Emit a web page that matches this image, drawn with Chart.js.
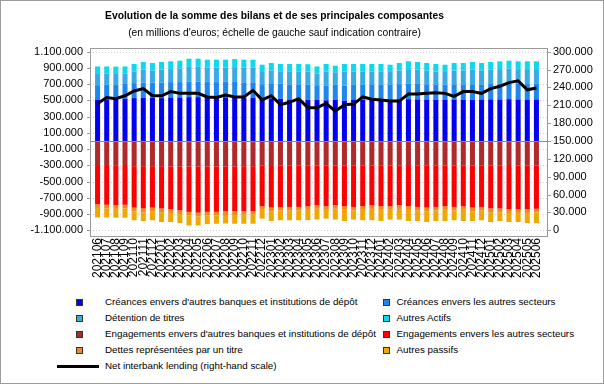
<!DOCTYPE html>
<html lang="fr">
<head>
<meta charset="utf-8">
<title>Evolution de la somme des bilans</title>
<script src="https://cdn.jsdelivr.net/npm/chart.js@4.4.1/dist/chart.umd.min.js"></script>
<style>
    html, body { margin: 0; padding: 0; background: #fff; }
    #page { position: relative; width: 604px; height: 384px; overflow: hidden; font-family: "Liberation Sans", Arial, sans-serif; color: #000; }
    #border { position: absolute; left: 0; top: 0; width: 604px; height: 384px; box-sizing: border-box; border: 1px solid #9c9c9c; pointer-events: none; }
    #chartTitle { position: absolute; left: 0; top: 8px; width: 549px; text-align: center; font-size: 10.3px; line-height: 16.6px; white-space: nowrap; }
    #balanceChart { position: absolute; left: 0; top: 0; }
    .legend-label { position: absolute; height: 16px; line-height: 16px; font-size: 9.8px; white-space: nowrap; }
    .legend-swatch { position: absolute; width: 5px; height: 5px; border: 1px solid #333; }
    .legend-line { position: absolute; height: 3px; background: #000; }
</style>
</head>
<body>
<div id="page">
    <canvas id="balanceChart" width="604" height="290"></canvas>
    <div id="chartTitle"><b>Evolution de la somme des bilans et de ses principales composantes</b><br>(en millions d'euros; échelle de gauche sauf indication contraire)</div>
    <div id="legend"></div>
    <div id="border"></div>
</div>
<script>
const months = [
    '202106', '202107', '202108', '202109', '202110', '202111', '202112',
    '202201', '202202', '202203', '202204', '202205', '202206', '202207', '202208', '202209', '202210', '202211', '202212',
    '202301', '202302', '202303', '202304', '202305', '202306', '202307', '202308', '202309', '202310', '202311', '202312',
    '202401', '202402', '202403', '202404', '202405', '202406', '202407', '202408', '202409', '202410', '202411', '202412',
    '202501', '202502', '202503', '202504', '202505', '202506'
];

const leftTicks = [1100000, 900000, 700000, 500000, 300000, 100000, -100000, -300000, -500000, -700000, -900000, -1100000];
const rightTicks = [300000, 270000, 240000, 210000, 180000, 150000, 120000, 90000, 60000, 30000, 0];

// actifs (positive)
const creancesBanques = [
    505000, 510000, 508000, 520000, 528000, 530000, 530000, 528000, 535000, 535000, 540000, 540000, 538000, 535000, 538000, 535000, 532000, 532000, 515000, 525000, 520000, 510000, 512000, 508000, 505000,
    500000, 508000, 495000, 505000, 505000, 512000, 510000, 505000, 512000, 515000, 512000, 510000, 505000, 508000, 510000, 510000, 508000, 510000, 512000, 512000, 515000, 512000, 510000, 512000
];
const creancesSecteurs = [
    182000, 182000, 181000, 182000, 185000, 188000, 186000, 188000, 190000, 190000, 192000, 192000, 190000, 190000, 190000, 192000, 190000, 190000, 184000, 186000, 185000, 185000, 185000, 184000, 182000,
    185000, 183000, 186000, 186000, 186000, 186000, 186000, 185000, 188000, 190000, 189000, 188000, 186000, 185000, 188000, 188000, 190000, 188000, 190000, 191000, 192000, 191000, 191000, 191000
];
const detentionTitres = [
    139000, 136000, 136000, 128000, 143000, 160000, 152000, 162000, 160000, 167000, 181000, 181000, 175000, 178000, 175000, 182000, 181000, 181000, 150000, 157000, 153000, 163000, 161000, 163000, 143000,
    171000, 148000, 175000, 165000, 165000, 158000, 160000, 159000, 167000, 180000, 177000, 169000, 165000, 156000, 169000, 169000, 180000, 169000, 176000, 182000, 185000, 182000, 184000, 182000
];
const autresActifs = [
    92000, 90000, 90000, 88000, 92000, 95000, 92000, 95000, 96000, 97000, 100000, 100000, 98000, 98000, 98000, 100000, 98000, 98000, 90000, 92000, 90000, 90000, 90000, 90000, 88000,
    92000, 88000, 92000, 92000, 92000, 92000, 92000, 90000, 93000, 96000, 95000, 93000, 92000, 90000, 93000, 93000, 95000, 93000, 95000, 96000, 97000, 96000, 96000, 96000
];

// passifs (negative)
const engagementsBanques = [
    -308000, -308000, -306000, -308000, -310000, -310000, -310000, -310000, -312000, -312000, -315000, -315000, -312000, -312000, -312000, -312000, -310000, -310000, -305000, -308000, -305000, -305000, -305000, -305000, -300000,
    -305000, -300000, -305000, -305000, -305000, -305000, -305000, -302000, -305000, -308000, -305000, -305000, -305000, -302000, -305000, -305000, -305000, -305000, -305000, -305000, -308000, -305000, -305000, -305000
];
const engagementsSecteurs = [
    -471000, -477000, -485000, -477000, -510000, -521000, -510000, -521000, -528000, -541000, -558000, -568000, -561000, -561000, -553000, -553000, -552000, -552000, -498000, -512000, -507000, -507000, -507000, -498000, -491000,
    -498000, -491000, -498000, -507000, -498000, -486000, -498000, -501000, -486000, -495000, -507000, -515000, -507000, -501000, -507000, -498000, -515000, -507000, -526000, -526000, -532000, -535000, -535000, -530000
];
const dettesTitre = [
    -45000, -45000, -45000, -45000, -45000, -46000, -45000, -46000, -46000, -46000, -47000, -47000, -46000, -46000, -46000, -46000, -46000, -46000, -45000, -45000, -45000, -45000, -45000, -45000, -44000,
    -45000, -44000, -45000, -45000, -45000, -45000, -45000, -45000, -45000, -45000, -45000, -45000, -45000, -45000, -45000, -45000, -45000, -45000, -46000, -46000, -46000, -46000, -46000, -46000
];
const autresPassifs = [
    -118000, -113000, -109000, -115000, -111000, -109000, -111000, -121000, -112000, -110000, -120000, -110000, -105000, -100000, -105000, -108000, -111000, -111000, -108000, -120000, -119000, -119000, -119000, -128000, -132000,
    -108000, -132000, -137000, -111000, -128000, -140000, -137000, -120000, -132000, -137000, -128000, -132000, -128000, -137000, -119000, -137000, -120000, -119000, -121000, -109000, -112000, -112000, -125000, -130000
];

// right-hand scale
const netInterbank = [
    213000, 223000, 221000, 226000, 234000, 238000, 226000, 226000, 233000, 230000, 230000, 230000, 224000, 223000, 227000, 224000, 224000, 235000, 219000, 226000, 211000, 215000, 221000, 206000, 206000,
    213000, 200000, 211000, 212000, 224000, 220000, 219000, 217000, 217000, 229000, 229000, 230000, 231000, 230000, 225000, 233000, 233000, 230000, 238000, 242000, 248000, 251000, 236000, 239000
];

const barSeries = [
    { label: 'Créances envers d\'autres banques et institutions de dépôt', data: creancesBanques, color: '#0000f4' },
    { label: 'Créances envers les autres secteurs', data: creancesSecteurs, color: '#1e86ec' },
    { label: 'Détention de titres', data: detentionTitres, color: '#38abe6' },
    { label: 'Autres Actifs', data: autresActifs, color: '#10d8ec' },
    { label: 'Engagements envers d\'autres banques et institutions de dépôt', data: engagementsBanques, color: '#b02a2a' },
    { label: 'Engagements envers les autres secteurs', data: engagementsSecteurs, color: '#ff0000' },
    { label: 'Dettes représentées par un titre', data: dettesTitre, color: '#f08a1c' },
    { label: 'Autres passifs', data: autresPassifs, color: '#f0a800' }
];
const lineLabel = 'Net interbank lending (right-hand scale)';

function formatThousands(value) {
    const digits = Math.abs(Math.round(value)).toString().replace(/\B(?=(\d{3})+(?!\d))/g, '.');
    return (value < 0 ? '-' : '') + digits;
}

const framePlugin = {
    id: 'frame',
    beforeDatasetsDraw(chart) {
        const { ctx, chartArea } = chart;
        const y = chart.scales.y;
        const left = chartArea.left - 3;
        const right = chartArea.right + 6;
        ctx.save();
        ctx.strokeStyle = '#cfcfcf';
        ctx.lineWidth = 1;
        ctx.setLineDash([1, 2]);
        y.ticks.forEach((t) => {
            const py = Math.round(y.getPixelForValue(t.value)) + 0.5;
            ctx.beginPath();
            ctx.moveTo(left, py);
            ctx.lineTo(right, py);
            ctx.stroke();
        });
        ctx.restore();
    },
    afterDatasetsDraw(chart) {
        const { ctx, chartArea } = chart;
        const y = chart.scales.y;
        const y1 = chart.scales.y1;
        const left = chartArea.left - 3;
        const right = chartArea.right + 6;
        ctx.save();
        ctx.lineWidth = 1;
        ctx.strokeStyle = '#8a8a8a';
        const zero = Math.round(y.getPixelForValue(0)) + 0.5;
        ctx.beginPath();
        ctx.moveTo(left, zero);
        ctx.lineTo(right, zero);
        ctx.stroke();
        ctx.strokeStyle = '#9a9a9a';
        ctx.strokeRect(left + 0.5, chartArea.top + 0.5, right - left, chartArea.bottom - chartArea.top);
        ctx.beginPath();
        y.ticks.forEach((t) => {
            const py = Math.round(y.getPixelForValue(t.value)) + 0.5;
            ctx.moveTo(left - 3, py);
            ctx.lineTo(left, py);
        });
        y1.ticks.forEach((t) => {
            const py = Math.round(y1.getPixelForValue(t.value)) + 0.5;
            ctx.moveTo(right, py);
            ctx.lineTo(right + 4, py);
        });
        ctx.stroke();
        ctx.restore();
    }
};

function buildLegend() {
    const root = document.getElementById('legend');
    const columns = [{ swatch: 75.5, text: 105 }, { swatch: 382.5, text: 396.5 }];
    const firstRow = 302.3;
    const rowStep = 16;
    barSeries.forEach((series, i) => {
        const col = columns[i % 2];
        const rowCenter = firstRow + rowStep * Math.floor(i / 2);
        const swatch = document.createElement('div');
        swatch.className = 'legend-swatch';
        swatch.style.left = col.swatch + 'px';
        swatch.style.top = (rowCenter - 3.5) + 'px';
        swatch.style.backgroundColor = series.color;
        const label = document.createElement('div');
        label.className = 'legend-label';
        label.style.left = col.text + 'px';
        label.style.top = (rowCenter - 8) + 'px';
        label.textContent = series.label;
        root.appendChild(swatch);
        root.appendChild(label);
    });
    const lineCenter = firstRow + rowStep * 4;
    const line = document.createElement('div');
    line.className = 'legend-line';
    line.style.left = '57px';
    line.style.width = '42px';
    line.style.top = (lineCenter - 1.5) + 'px';
    const label = document.createElement('div');
    label.className = 'legend-label';
    label.style.left = '105px';
    label.style.top = (lineCenter - 8) + 'px';
    label.textContent = lineLabel;
    root.appendChild(line);
    root.appendChild(label);
}

Chart.defaults.font.family = '"Liberation Sans", Arial, sans-serif';
Chart.defaults.color = '#000';

const datasets = barSeries.map((series) => ({
    type: 'bar',
    label: series.label,
    data: series.data,
    backgroundColor: series.color,
    borderWidth: 0,
    yAxisID: 'y',
    stack: 'bilan',
    barPercentage: 0.55,
    categoryPercentage: 1.0,
    order: 1
}));
datasets.push({
    type: 'line',
    label: lineLabel,
    data: netInterbank,
    borderColor: '#000',
    backgroundColor: '#000',
    borderWidth: 3,
    pointRadius: 0,
    tension: 0,
    fill: false,
    yAxisID: 'y1',
    order: 0
});

new Chart(document.getElementById('balanceChart'), {
    data: { labels: months, datasets: datasets },
    plugins: [framePlugin],
    options: {
        responsive: false,
        animation: false,
        devicePixelRatio: 1,
        layout: { padding: { top: 48, left: 0, right: 0, bottom: 0 } },
        plugins: {
            legend: { display: false },
            tooltip: { enabled: false },
            title: { display: false }
        },
        scales: {
            x: {
                stacked: true,
                grid: { display: false, drawTicks: false },
                border: { display: false },
                ticks: {
                    autoSkip: false,
                    minRotation: 90,
                    maxRotation: 90,
                    padding: 2,
                    font: { size: 12 }
                },
                afterFit: (scale) => { scale.height = 54; }
            },
            y: {
                position: 'left',
                stacked: true,
                min: -1170000,
                max: 1145000,
                grid: { display: false, drawTicks: false },
                border: { display: false },
                ticks: {
                    padding: 10,
                    font: { size: 11 },
                    callback: (value) => formatThousands(value)
                },
                afterBuildTicks: (scale) => { scale.ticks = leftTicks.map((v) => ({ value: v })); },
                afterFit: (scale) => { scale.width = 93; }
            },
            y1: {
                position: 'right',
                stacked: false,
                min: -9600,
                max: 306200,
                grid: { display: false, drawTicks: false },
                border: { display: false },
                ticks: {
                    padding: 12,
                    font: { size: 11 },
                    callback: (value) => formatThousands(value)
                },
                afterBuildTicks: (scale) => { scale.ticks = rightTicks.map((v) => ({ value: v })); },
                afterFit: (scale) => { scale.width = 63; }
            }
        }
    }
});

buildLegend();
</script>
</body>
</html>
